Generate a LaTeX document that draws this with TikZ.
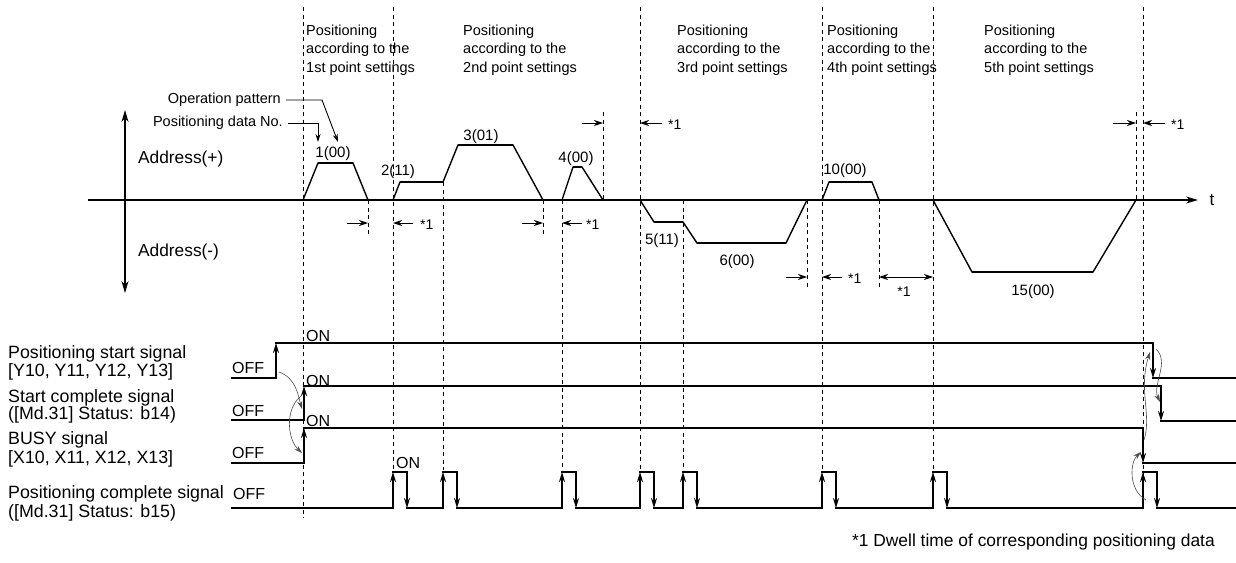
\documentclass[tikz,border=0pt]{standalone}
\usepackage{fontspec}
\setmainfont{Liberation Sans}
\usetikzlibrary{arrows.meta}
\begin{document}
\begin{tikzpicture}[x=1pt,y=-1pt,
  dsh/.style={line width=0.8pt,dash pattern=on 4pt off 3.5pt},
  prof/.style={line width=1.4pt,line join=miter},
  flat/.style={line width=2.2pt},
  axis/.style={line width=1.1pt},
  sig/.style={line width=2.1pt,line cap=rect},
  tipu/.style={-{Stealth[length=10pt,width=6pt]}},
  thin/.style={line width=0.9pt,-{Stealth[length=8pt,width=5pt]}},
  dw/.style={line width=0.9pt,-{Stealth[length=9pt,width=6pt]}},
  dwb/.style={line width=0.9pt,{Stealth[length=9pt,width=6pt]}-{Stealth[length=9pt,width=6pt]}},
  cause/.style={line width=0.6pt,black!70,-{Stealth[length=8pt,width=5pt]}},
  toplab/.style={anchor=base west,inner sep=0pt,font=\fontsize{14.5}{17}\selectfont},
  leftlab/.style={anchor=base west,inner sep=0pt,font=\fontsize{17.8}{20}\selectfont},
  lvl/.style={anchor=base west,inner sep=0pt,font=\fontsize{16}{18}\selectfont},
  num/.style={anchor=base,inner sep=0pt,font=\fontsize{15}{17}\selectfont},
  star/.style={inner sep=0pt,font=\fontsize{14}{16}\selectfont},
  bigl/.style={anchor=base west,inner sep=0pt,font=\fontsize{17.3}{19}\selectfont}]
\useasboundingbox (0,0) rectangle (1236,562);

% ---------- dashed guide lines ----------
\foreach \x/\a/\b in {303/7/518, 368/200/237, 393/7/470, 443/182/470, 543/200/237,
  562/200/470, 603/112/200, 640/7/470, 683/200/470, 807/200/288, 822/7/470,
  879/200/288, 933/7/470, 1136/112/200, 1143/7/505}
  \draw[dsh] (\x,\a) -- (\x,\b);

% ---------- top labels ----------
\foreach \x/\n [count=\i] in {306/1st, 463/2nd, 677/3rd, 827/4th, 984/5th} {
  \node[toplab] (ta\i) at (\x,35) {Positioning};
  \node[toplab] (tb\i) at (\x,53) {according to the};
  \node[toplab] (tc\i) at (\x,72) {\n\ point settings};
}

% ---------- axes ----------
\coordinate (ax0) at (88,200);
\coordinate (ax1) at (1198,200);
\draw[axis,-{Stealth[length=12pt,width=7pt]}] (ax0) -- (ax1);
\node[inner sep=0pt,font=\fontsize{17}{19}\selectfont] (tlab) at (1212,200) {t};
\coordinate (vy0) at (125,293);
\coordinate (vy1) at (125,110);
\draw[axis,{Stealth[length=12pt,width=7pt]}-{Stealth[length=12pt,width=7pt]}] (vy0) -- (vy1);
\node[bigl] (addp) at (138,163) {Address(+)};
\node[bigl] (addm) at (138,256) {Address(-)};

% ---------- callouts ----------
\node[anchor=east,inner sep=0pt,font=\fontsize{14.5}{17}\selectfont] (opp) at (281,100) {Operation pattern};
\node[anchor=east,inner sep=0pt,font=\fontsize{14.5}{17}\selectfont] (pdn) at (283,123) {Positioning data No.};
\coordinate (oppend) at (338,142);
\coordinate (pdnend) at (318,142);
\draw[thin] (opp.east) ++(5,0) -- (322,100) -- (oppend);
\draw[thin] (pdn.east) ++(5,0) -- (318,123) -- (pdnend);

% ---------- address profiles ----------
\draw[prof] (303,200) -- (318,163) -- (353,163) -- (368,200);
\draw[prof] (393,200) -- (400,182) -- (443,182) -- (458,145) -- (513,145) -- (543,200);
\draw[prof] (562,200) -- (573,167) -- (582,167) -- (603,200);
\draw[prof] (640,200) -- (654,222) -- (683,222) -- (697,243) -- (786,243) -- (807,200);
\draw[prof] (822,200) -- (829,182) -- (872,182) -- (879,200);
\draw[prof] (933,200) -- (972,272) -- (1093,272) -- (1136,200);
\foreach \a/\b/\y in {318/353/163, 400/443/182, 458/513/145, 573/582/167, 654/683/222,
  697/786/243, 829/872/182, 972/1093/272}
  \draw[flat] (\a,\y) -- (\b,\y);

\node[num] (p1) at (333,157) {1(00)};
\node[num] (p2) at (398,175) {2(11)};
\node[num] (p3) at (481,140) {3(01)};
\node[num] (p4) at (576,162) {4(00)};
\node[num] (p5) at (662,244) {5(11)};
\node[num] (p6) at (737,265) {6(00)};
\node[num] (p10) at (845,174) {10(00)};
\node[num] (p15) at (1033,295) {15(00)};

% ---------- dwell markers ----------
\draw[dw] (347,223) -- (368,223);
\draw[dw] (413,223) -- (393,223);
\node[star,anchor=west] (s1) at (420,225) {*1};
\draw[dw] (522,223) -- (543,223);
\draw[dw] (582,223) -- (562,223);
\node[star,anchor=west] (s2) at (586,225) {*1};
\draw[dw] (582,123) -- (603,123);
\draw[dw] (662,123) -- (640,123);
\node[star,anchor=west] (s3) at (668,125) {*1};
\draw[dw] (786,277) -- (807,277);
\draw[dw] (842,277) -- (822,277);
\node[star,anchor=west] (s4) at (848,279) {*1};
\draw[dwb] (879,277) -- (933,277);
\node[star] (s5) at (904,292) {*1};
\draw[dw] (1113,123) -- (1136,123);
\draw[dw] (1165,123) -- (1143,123);
\node[star,anchor=west] (s6) at (1171,125) {*1};

% ---------- signal labels ----------
\node[leftlab] (l1a) at (8,358) {Positioning start signal};
\node[leftlab] (l1b) at (8,376) {[Y10, Y11, Y12, Y13]};
\node[leftlab] (l2a) at (8,402) {Start complete signal};
\node[leftlab] (l2b) at (8,419) {([Md.31] Status: b14)};
\node[leftlab] (l3a) at (8,444) {BUSY signal};
\node[leftlab] (l3b) at (8,463) {[X10, X11, X12, X13]};
\node[leftlab] (l4a) at (8,498) {Positioning complete signal};
\node[leftlab] (l4b) at (8,517) {([Md.31] Status: b15)};

\node[lvl] (off1) at (232,373) {OFF};
\node[lvl] (off2) at (232,416) {OFF};
\node[lvl] (off3) at (232,458) {OFF};
\node[lvl] (off4) at (233,499) {OFF};
\node[lvl] (on1) at (306,341) {ON};
\node[lvl] (on2) at (306,386) {ON};
\node[lvl] (on3) at (306,426) {ON};
\node[lvl] (on4) at (396,468) {ON};

% ---------- signals ----------
% positioning start
\draw[sig] (232,378) -- (276,378);
\draw[sig,tipu] (276,378) -- (276,343);
\draw[sig] (276,343) -- (1153,343);
\draw[sig,tipu] (1153,343) -- (1153,378);
\draw[sig] (1153,378) -- (1236,378);
% start complete
\draw[sig] (232,420) -- (304,420);
\draw[sig,tipu] (304,420) -- (304,386);
\draw[sig] (304,386) -- (1161,386);
\draw[sig,tipu] (1161,386) -- (1161,421);
\draw[sig] (1161,421) -- (1236,421);
% busy
\draw[sig] (232,463) -- (304,463);
\draw[sig,tipu] (304,463) -- (304,428);
\draw[sig] (304,428) -- (1143,428);
\draw[sig,tipu] (1143,428) -- (1143,463);
\draw[sig] (1143,463) -- (1236,463);
% positioning complete
\foreach \a/\b in {232/393, 407/443, 457/562, 576/640, 654/683, 697/822, 836/933, 947/1143, 1157/1236}
  \draw[sig] (\a,508) -- (\b,508);
\foreach \p in {393,443,562,640,683,822,933,1143} {
  \draw[sig,tipu] (\p,508) -- (\p,472);
  \draw[sig] (\p,472) -- (\p+14,472);
  \draw[sig,tipu] (\p+14,472) -- (\p+14,508);
}

% ---------- causal curves ----------
\draw[cause] (279,372) .. controls (296,378) and (298,395) .. (302,409);
\draw[cause] (301,396) .. controls (284,410) and (288,440) .. (302,453);
\draw[cause] (1146,500) .. controls (1128,490) and (1130,462) .. (1141,452);
\draw[cause] (1144,440) .. controls (1152,415) and (1138,390) .. (1150,352);
\draw[cause] (1156,349) .. controls (1170,362) and (1152,385) .. (1160,402);

% ---------- footnote ----------
\node[anchor=base east,inner sep=0pt,font=\fontsize{17.4}{19}\selectfont] (fn) at (1215,546) {*1 Dwell time of corresponding positioning data};
\end{tikzpicture}
\end{document}
